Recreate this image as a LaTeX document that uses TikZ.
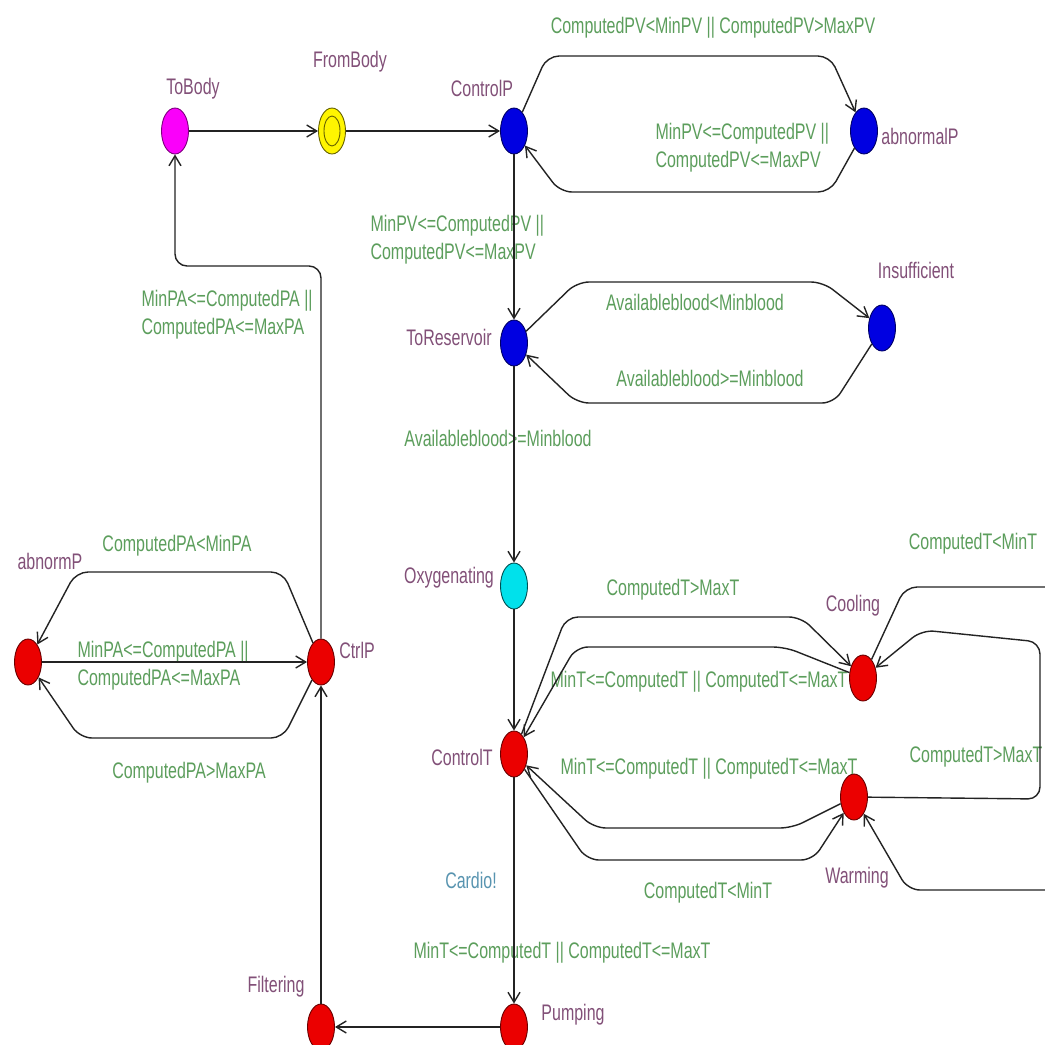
\documentclass[tikz,border=0pt]{standalone}
\usepackage{fontspec}
\setmainfont{Liberation Sans}[FakeStretch=0.71]
\usetikzlibrary{shapes.geometric,arrows.meta}

\definecolor{guardgreen}{RGB}{92,158,92}
\definecolor{locname}{RGB}{130,80,120}
\definecolor{syncblue}{RGB}{88,148,176}
\definecolor{wire}{RGB}{35,35,35}
\definecolor{pinkfill}{RGB}{250,0,250}
\definecolor{yellowfill}{RGB}{255,245,0}
\definecolor{bluefill}{RGB}{0,0,225}
\definecolor{cyanfill}{RGB}{0,225,235}
\definecolor{redfill}{RGB}{235,0,0}

\begin{document}
\begin{tikzpicture}[x=1pt, y=-1pt, >={Straight Barb[length=10pt,width=12pt]},
    every node/.style={font=\fontsize{22.5}{28}\selectfont},
    loc/.style={ellipse, draw, line width=0.9pt, minimum width=27pt, minimum height=46pt, inner sep=0pt},
    nm/.style={text=locname},
    grd/.style={text=guardgreen},
    tr/.style={->, draw=wire, line width=1.4pt, rounded corners=12pt}]
    % Frame
    \useasboundingbox (0,0) rectangle (1045,1045);
    \fill[white] (0,0) rectangle (1045,1045);
    \clip (0,0) rectangle (1045,1045);

    % Locations
    \node[loc, fill=pinkfill, draw=pinkfill!50!black] (ToBody) at (175,131) {};
    \node[loc, fill=yellowfill, draw=yellowfill!40!black,
        path picture={\draw[yellowfill!40!black, line width=0.9pt] (path picture bounding box.center) ellipse (8pt and 15pt);}] (FromBody) at (332,131) {};
    \node[loc, fill=bluefill, draw=bluefill!45!black] (ControlP) at (514,131) {};
    \node[loc, fill=bluefill, draw=bluefill!45!black] (abnormalP) at (864,131) {};
    \node[loc, fill=bluefill, draw=bluefill!45!black] (ToReservoir) at (514,343) {};
    \node[loc, fill=bluefill, draw=bluefill!45!black] (Insufficient) at (882,328) {};
    \node[loc, fill=cyanfill, draw=cyanfill!35!black] (Oxygenating) at (514,586) {};
    \node[loc, fill=redfill, draw=redfill!45!black] (ControlT) at (514,754) {};
    \node[loc, fill=redfill, draw=redfill!45!black] (Cooling) at (863,678) {};
    \node[loc, fill=redfill, draw=redfill!45!black] (Warming) at (854,797) {};
    \node[loc, fill=redfill, draw=redfill!45!black] (Pumping) at (514,1027) {};
    \node[loc, fill=redfill, draw=redfill!45!black] (Filtering) at (321,1027) {};
    \node[loc, fill=redfill, draw=redfill!45!black] (CtrlP) at (321,662) {};
    \node[loc, fill=redfill, draw=redfill!45!black] (abnormP) at (28,662) {};

    % Location names
    \node[nm] (lToBody) at (193,89) {ToBody};
    \node[nm] (lFromBody) at (350,62) {FromBody};
    \node[nm] (lControlP) at (482,88) {ControlP};
    \node[nm] (labnormalP) at (920,136) {abnormalP};
    \node[nm] (lToReservoir) at (449,337) {ToReservoir};
    \node[nm] (lInsufficient) at (916,270) {Insufficient};
    \node[nm] (lOxygenating) at (449,578) {Oxygenating};
    \node[nm] (lControlT) at (462,757) {ControlT};
    \node[nm] (lCooling) at (853,606) {Cooling};
    \node[nm] (lWarming) at (857,878) {Warming};
    \node[nm] (lPumping) at (573,1015) {Pumping};
    \node[nm] (lFiltering) at (276,987) {Filtering};
    \node[nm] (lCtrlP) at (357,650) {CtrlP};
    \node[nm] (labnormP) at (50,561) {abnormP};

    % Guards and sync
    \node[grd] (gPVout) at (713,28) {ComputedPV<MinPV || ComputedPV>MaxPV};
    \node[grd, anchor=west, align=left] (gPVback) at (652,148) {MinPV<=ComputedPV ||\\ComputedPV<=MaxPV};
    \node[grd, anchor=west, align=left] (gPVok) at (367,240) {MinPV<=ComputedPV ||\\ComputedPV<=MaxPV};
    \node[grd] (gBloodlow) at (695,302) {Availableblood<Minblood};
    \node[grd] (gBloodback) at (710,378) {Availableblood>=Minblood};
    \node[grd] (gBloodok) at (498,438) {Availableblood>=Minblood};
    \node[grd] (gTcool) at (673,590) {ComputedT>MaxT};
    \node[grd] (gTcoolok) at (699,682) {MinT<=ComputedT || ComputedT<=MaxT};
    \node[grd] (gTwarmok) at (709,769) {MinT<=ComputedT || ComputedT<=MaxT};
    \node[grd] (gTwarm) at (708,893) {ComputedT<MinT};
    \node[grd] (gTtowarm) at (973,544) {ComputedT<MinT};
    \node[grd] (gTtocool) at (976,757) {ComputedT>MaxT};
    \node[text=syncblue] (sCardio) at (471,880) {Cardio!};
    \node[grd] (gTpump) at (562,953) {MinT<=ComputedT || ComputedT<=MaxT};
    \node[grd, anchor=west, align=left] (gPAok) at (138,315) {MinPA<=ComputedPA ||\\ComputedPA<=MaxPA};
    \node[grd] (gPAlow) at (177,546) {ComputedPA<MinPA};
    \node[grd, anchor=west, align=left] (gPAback) at (74,666) {MinPA<=ComputedPA ||\\ComputedPA<=MaxPA};
    \node[grd] (gPAhigh) at (189,773) {ComputedPA>MaxPA};

    % Pressure part
    \draw[tr] (ToBody) -- (FromBody);
    \draw[tr] (FromBody) -- (ControlP);
    \draw[tr] (ControlP) -- (547,56) -- (830,56) -- (abnormalP);
    \draw[tr] (abnormalP) -- (830,192) -- (560,192) -- (ControlP);
    \draw[tr] (ControlP) -- (ToReservoir);
    \draw[tr] (ToReservoir) -- (577,282) -- (823,282) -- (Insufficient);
    \draw[tr] (Insufficient) -- (834,403) -- (577,403) -- (ToReservoir);
    \draw[tr] (ToReservoir) -- (Oxygenating);
    \draw[tr] (Oxygenating) -- (ControlT);

    % Temperature part
    \draw[tr] (ControlT) -- (566,617) -- (801,617) -- (Cooling);
    \draw[tr] (Cooling) -- (785,647) -- (576,647) -- (ControlT);
    \draw[tr] (Warming) -- (792,828) -- (594,828) -- (ControlT);
    \draw[tr] (ControlT) -- (587,860) -- (813,860) -- (Warming);
    \draw[tr] (Cooling) -- (905,587) -- (1065,587) -- (1065,890) -- (908,890) -- (Warming);
    \draw[tr] (Warming) -- (1040,799) -- (1040,642) -- (922,630) -- (Cooling);
    \draw[tr] (ControlT) -- (Pumping);

    % Back to the body
    \draw[tr] (Pumping) -- (Filtering);
    \draw[tr] (Filtering) -- (CtrlP);
    \draw[tr] (CtrlP) -- (283,572) -- (76,572) -- (abnormP);
    \draw[tr] (CtrlP) -- (283,738) -- (80,738) -- (abnormP);
    \draw[tr] (abnormP) -- (CtrlP);
    \draw[tr] (CtrlP) -- (321,266) -- (175,266) -- (ToBody);
\end{tikzpicture}
\end{document}
